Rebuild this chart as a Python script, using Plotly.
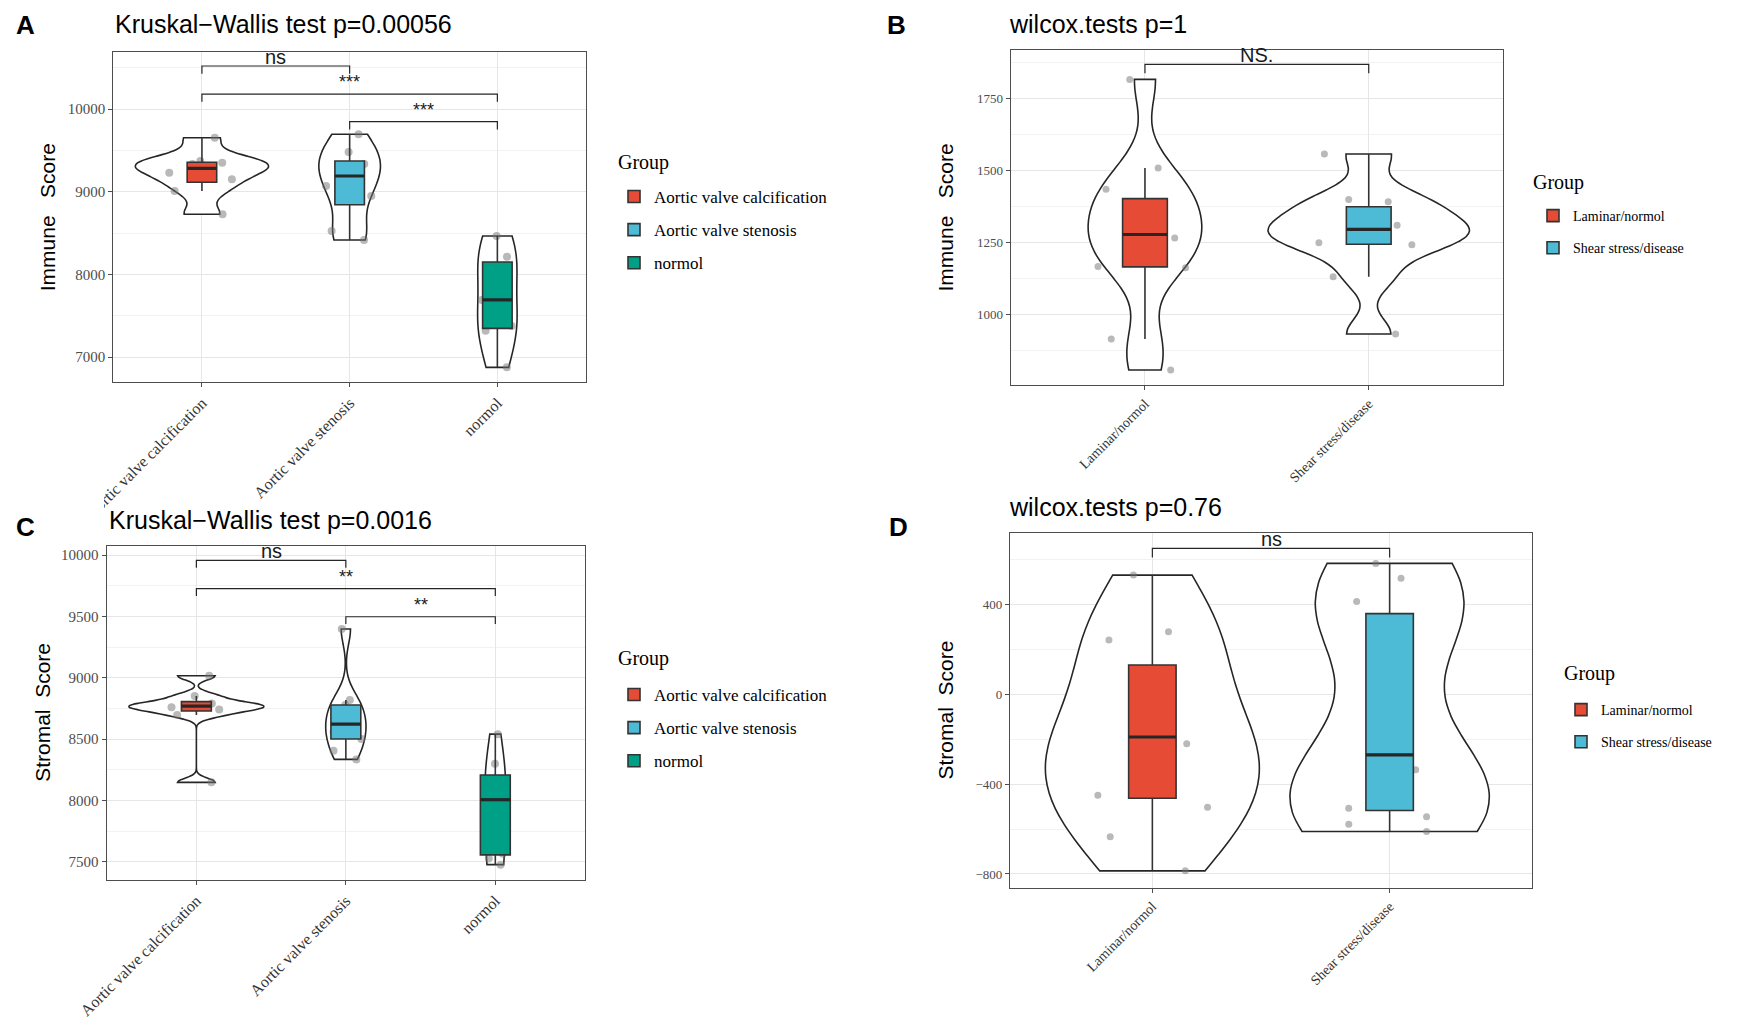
import numpy as np
import plotly.graph_objects as go

# ---------------- data ----------------
a_groups = ["Aortic valve calcification", "Aortic valve stenosis", "normol"]
a_calcification = [8726, 9008, 9150, 9230, 9335, 9351, 9371, 9653]
a_stenosis = [8415, 8524, 8948, 9069, 9310, 9335, 9480, 9694]
a_normol = [6875, 7318, 7375, 7690, 8085, 8214, 8464]

b_groups = ["Laminar/normol", "Shear stress/disease"]
b_laminar = [807, 915, 1162, 1166, 1258, 1265, 1290, 1381, 1391, 1435, 1508, 1816]
b_shear = [932, 1131, 1242, 1249, 1280, 1310, 1322, 1391, 1399, 1557]

c_groups = ["Aortic valve calcification", "Aortic valve stenosis", "normol"]
c_calcification = [8147, 8696, 8740, 8760, 8777, 8790, 8851, 9016]
c_stenosis = [8334, 8405, 8500, 8560, 8622, 8677, 8778, 8818, 9397]
c_normol = [7476, 7527, 7565, 7951, 8060, 8176, 8298, 8540]

d_groups = ["Laminar/normol", "Shear stress/disease"]
d_laminar = [-786, -634, -503, -450, -379, -221, -160, -156, 93, 241, 278, 530]
d_shear = [-611, -579, -545, -508, -380, -336, -204, 249, 341, 412, 516, 582]

# significance brackets: (group i, group j, bracket level, label)
a_brackets = [(0, 1, 10520, "ns"), (0, 2, 10181, "***"), (1, 2, 9847, "***")]
b_brackets = [(0, 1, 1868, "NS.")]
c_brackets = [(0, 1, 9957, "ns"), (0, 2, 9726, "**"), (1, 2, 9497, "**")]
d_brackets = [(0, 1, 649, "ns")]

a_title = "Kruskal\u2212Wallis test p=0.00056"
b_title = "wilcox.tests p=1"
c_title = "Kruskal\u2212Wallis test p=0.0016"
d_title = "wilcox.tests p=0.76"

immune_label = "Immune\u00a0\u00a0\u00a0Score"
stromal_label = "Stromal\u00a0\u00a0Score"
legend_title = "Group"

colors = ["#E64B35", "#4DBBD5", "#00A087"]

W, H = 1750, 1031
SANS = "Liberation Sans, Arial, sans-serif"
SERIF = "Liberation Serif, Times New Roman, serif"


# ---------------- helpers (ggplot-like statistics) ----------------
def box_stats(v):
    v = np.sort(np.asarray(v, float))
    q1, med, q3 = np.percentile(v, [25, 50, 75])
    iqr = q3 - q1
    lo = v[v >= q1 - 1.5 * iqr].min()
    hi = v[v <= q3 + 1.5 * iqr].max()
    return q1, med, q3, lo, hi


def nrd0(v):
    v = np.asarray(v, float)
    sd = v.std(ddof=1)
    q1, q3 = np.percentile(v, [25, 75])
    lo = min(sd, (q3 - q1) / 1.34)
    if lo == 0:
        lo = sd if sd > 0 else 1.0
    return 0.9 * lo * len(v) ** -0.2


def peak_density(v, bw):
    v = np.asarray(v, float)
    grid = np.linspace(v.min(), v.max(), 512)
    d = np.exp(-0.5 * ((grid[:, None] - v[None, :]) / bw) ** 2).sum(1)
    d /= len(v) * bw * np.sqrt(2 * np.pi)
    return d.max()


def px_x(p):
    return p / W


def px_y(p):
    return 1 - p / H


fig = go.Figure()

BOX_W = 0.2

panels = [
    dict(groups=a_groups, series=[a_calcification, a_stenosis, a_normol], n="",
         legend="legend", box=(113.3, 586, 52.3, 382.3), yr=(6694, 10686), dtick=1000,
         brackets=a_brackets, tip=94, title=a_title, title_pos=(113, 24),
         letter="A", letter_pos=(25, 25), ytitle=immune_label, ytitle_x=47, tickfs=15, xtickfs=16,
         ptsize=8, legpos=(614, 179), legtitle=(616, 162), legfs=17, gap=8),
    dict(groups=b_groups, series=[b_laminar, b_shear], n="2",
         legend="legend2", box=(1010.7, 1503, 50, 385), yr=(755, 1918), dtick=250,
         brackets=b_brackets, tip=31, title=b_title, title_pos=(1007, 24),
         letter="B", letter_pos=(896, 25), ytitle=immune_label, ytitle_x=945, tickfs=13, xtickfs=14,
         ptsize=7, legpos=(1533, 200), legtitle=(1531, 183), legfs=14, gap=11),
    dict(groups=c_groups, series=[c_calcification, c_stenosis, c_normol], n="3",
         legend="legend3", box=(106.7, 585, 545.7, 880), yr=(7351, 10076), dtick=500,
         brackets=c_brackets, tip=60, title=c_title, title_pos=(107, 520),
         letter="C", letter_pos=(25, 527), ytitle=stromal_label, ytitle_x=43, tickfs=15, xtickfs=16,
         ptsize=8, legpos=(614, 677), legtitle=(616, 658), legfs=17, gap=8),
    dict(groups=d_groups, series=[d_laminar, d_shear], n="4",
         legend="legend4", box=(1010, 1532, 533.3, 887.7), yr=(-861, 716), dtick=400,
         brackets=d_brackets, tip=41, title=d_title, title_pos=(1007, 507),
         letter="D", letter_pos=(898, 527), ytitle=stromal_label, ytitle_x=945, tickfs=13, xtickfs=14,
         ptsize=7, legpos=(1561, 694), legtitle=(1562, 673), legfs=14, gap=11),
]

annotations = []
shapes = []
layout_axes = {}
legends = {}

for p in panels:
    xa = "x" + p["n"]
    ya = "y" + p["n"]
    groups, series = p["groups"], p["series"]
    bws = [nrd0(s) for s in series]
    peaks = [peak_density(s, b) for s, b in zip(series, bws)]
    pmax = max(peaks)

    # violins (with jittered points underneath the boxes)
    for i, (g, s, bw, pk) in enumerate(zip(groups, series, bws, peaks)):
        w = 0.9 * pk / pmax
        fig.add_trace(go.Violin(
            x=[i] * len(s), y=s, xaxis=xa, yaxis=ya, name=g,
            width=w, scalemode="width", bandwidth=bw, spanmode="hard",
            fillcolor="white", line=dict(color="#262626", width=1.6),
            points="all", pointpos=0, jitter=min(1.0, 0.6 / w),
            marker=dict(color="rgba(115,115,115,0.5)", size=p["ptsize"], line=dict(width=0)),
            box_visible=False, meanline_visible=False,
            showlegend=False, hoverinfo="y",
        ))
    # boxes (ggplot-style quartiles / 1.5 IQR whiskers)
    for i, (g, s) in enumerate(zip(groups, series)):
        q1, med, q3, lo, hi = box_stats(s)
        fig.add_trace(go.Box(
            x=[i], q1=[q1], median=[med], q3=[q3], lowerfence=[lo], upperfence=[hi],
            xaxis=xa, yaxis=ya, name=g, width=BOX_W, whiskerwidth=0,
            fillcolor=colors[i], line=dict(color="#333333", width=1.6),
            boxpoints=False, legend=p["legend"], legendgroup=p["legend"] + str(i),
            hoverinfo="y",
        ))
        # thicker median bar, as in ggplot
        shapes.append(dict(
            type="line", xref=xa, yref=ya, x0=i - BOX_W / 2, x1=i + BOX_W / 2, y0=med, y1=med,
            line=dict(color="#262626", width=3.2), layer="above",
        ))

    x0, x1, y0, y1 = p["box"]
    ng = len(groups)
    axis_common = dict(
        showline=True, mirror=True, linecolor="#4d4d4d", linewidth=1.3,
        ticks="outside", ticklen=4, tickcolor="#4d4d4d",
        gridcolor="#e6e6e6", gridwidth=1, zeroline=False, automargin=False,
    )
    layout_axes["xaxis" + p["n"]] = dict(
        axis_common, domain=[px_x(x0), px_x(x1)], anchor=ya,
        range=[-0.6, ng - 0.4], tickmode="array", tickvals=list(range(ng)),
        ticktext=groups, tickangle=-45,
        tickfont=dict(family=SERIF, size=p["xtickfs"], color="#333333"),
    )
    layout_axes["yaxis" + p["n"]] = dict(
        axis_common, domain=[px_y(y1), px_y(y0)], anchor=xa,
        range=list(p["yr"]), tick0=0, dtick=p["dtick"], tickformat="d",
        minor=dict(dtick=p["dtick"] / 2, tick0=0, showgrid=True, gridcolor="#f2f2f2", ticks=""),
        tickfont=dict(family=SERIF, size=p["tickfs"], color="#4d4d4d"),
    )

    # y-axis title, placed like the reference
    annotations.append(dict(
        x=px_x(p["ytitle_x"]), y=(px_y(y0) + px_y(y1)) / 2, xref="paper", yref="paper",
        text=p["ytitle"], textangle=-90, showarrow=False, xanchor="center", yanchor="middle",
        font=dict(family=SANS, size=21, color="black"),
    ))

    # significance brackets
    for (gi, gj, lvl, lab) in p["brackets"]:
        shapes.append(dict(
            type="path", xref=xa, yref=ya,
            path=f"M {gi},{lvl - p['tip']} L {gi},{lvl} L {gj},{lvl} L {gj},{lvl - p['tip']}",
            line=dict(color="#262626", width=1.2),
        ))
        star = lab.startswith("*")
        annotations.append(dict(
            x=(gi + gj) / 2, y=lvl, xref=xa, yref=ya, text=lab, showarrow=False,
            yanchor="bottom", yshift=(0 if star else -4),
            font=dict(family=SANS, size=(18 if star else 20), color="#1a1a1a"),
        ))

    # panel title + panel letter
    tx, ty = p["title_pos"]
    annotations.append(dict(
        x=px_x(tx), y=px_y(ty), xref="paper", yref="paper", text=p["title"],
        showarrow=False, xanchor="left", yanchor="middle",
        font=dict(family=SANS, size=25, color="black"),
    ))
    lx, ly = p["letter_pos"]
    annotations.append(dict(
        x=px_x(lx), y=px_y(ly), xref="paper", yref="paper", text="<b>" + p["letter"] + "</b>",
        showarrow=False, xanchor="center", yanchor="middle",
        font=dict(family=SANS, size=26, color="black"),
    ))

    # legend ("Group" heading placed as its own text, spaced like ggplot's guide)
    gtx, gty = p["legtitle"]
    annotations.append(dict(
        x=px_x(gtx), y=px_y(gty), xref="paper", yref="paper", text=legend_title,
        showarrow=False, xanchor="left", yanchor="middle",
        font=dict(family=SERIF, size=20, color="black"),
    ))
    gx, gy = p["legpos"]
    legends[p["legend"]] = dict(
        x=px_x(gx), y=px_y(gy), xanchor="left", yanchor="top",
        bgcolor="rgba(0,0,0,0)", traceorder="grouped", tracegroupgap=p["gap"],
        font=dict(family=SERIF, size=p["legfs"], color="black"),
    )

# the source panel A was cropped just below its x labels
shapes.append(dict(
    type="rect", xref="paper", yref="paper", layer="above",
    x0=px_x(55), x1=px_x(104), y0=px_y(527), y1=px_y(488),
    fillcolor="white", line=dict(width=0),
))

fig.update_layout(
    width=W, height=H, autosize=False,
    margin=dict(l=0, r=0, t=0, b=0, autoexpand=False),
    paper_bgcolor="white", plot_bgcolor="white",
    violinmode="overlay", boxmode="overlay",
    annotations=annotations, shapes=shapes,
    **layout_axes, **legends,
)

fig.write_html("out.html", post_script="document.body.style.margin='0';",
               config={"displayModeBar": False})
